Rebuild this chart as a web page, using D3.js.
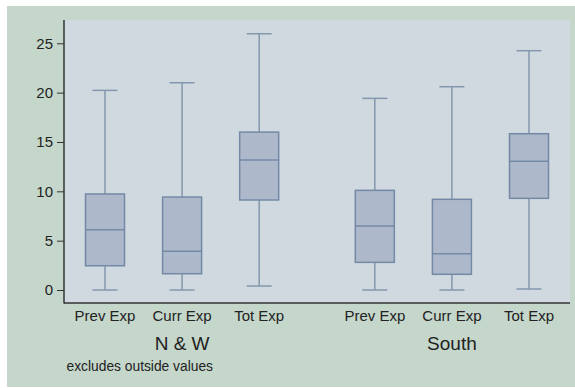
<!DOCTYPE html>
<html>
<head>
<meta charset="utf-8">
<script src="https://cdn.jsdelivr.net/npm/d3@7"></script>
<style>
  html, body { margin: 0; padding: 0; background: #ffffff; }
  svg { display: block; }
  text { font-family: "Liberation Sans", Arial, Helvetica, sans-serif; fill: #222; }
</style>
</head>
<body>
<svg id="chart" width="575" height="388"></svg>
<script>
const groups = ["N & W", "South"];
const categories = ["Prev Exp", "Curr Exp", "Tot Exp"];
const lowerWhisker = [0, 0, 0.4, 0, 0, 0.1];
const q1 = [2.46, 1.65, 9.12, 2.8, 1.59, 9.29];
const median = [6.11, 3.92, 13.17, 6.48, 3.68, 13.04];
const q3 = [9.73, 9.42, 16.0, 10.1, 9.19, 15.84];
const upperWhisker = [20.23, 21.0, 25.97, 19.42, 20.6, 24.25];
const yTicks = [0, 5, 10, 15, 20, 25];
const note = "excludes outside values";

const svg = d3.select("#chart");

// backgrounds
svg.append("rect").attr("x", 7).attr("y", 6).attr("width", 568).attr("height", 381).attr("fill", "#c5d6cb");
const plot = { left: 64, right: 570, top: 20, bottom: 303 };
svg.append("rect").attr("x", plot.left).attr("y", plot.top)
  .attr("width", plot.right - plot.left).attr("height", plot.bottom - plot.top)
  .attr("fill", "#d0d9df");

// positions: each group has 3 boxes, gap of 1.5 slots between groups
const pos = [];
groups.forEach((g, gi) => categories.forEach((c, ci) => pos.push(gi * 3.5 + ci)));

const x = d3.scaleLinear().domain([0, 5.5]).range([105, 529]);
const y = d3.scaleLinear().domain([0, 25]).range([290, 43.3]);

const boxW = 39, capW = 25;
const whiskerColor = "#8397ae", boxStroke = "#7489a5", boxFill = "#adb9cb";

const data = pos.map((p, i) => ({
  p, lo: lowerWhisker[i], q1: q1[i], med: median[i], q3: q3[i], hi: upperWhisker[i]
}));

const g = svg.append("g");
data.forEach(d => {
  const cx = x(d.p);
  g.append("line").attr("x1", cx).attr("x2", cx).attr("y1", y(d.hi)).attr("y2", y(d.q3))
    .attr("stroke", whiskerColor).attr("stroke-width", 1.5);
  g.append("line").attr("x1", cx).attr("x2", cx).attr("y1", y(d.q1)).attr("y2", y(d.lo))
    .attr("stroke", whiskerColor).attr("stroke-width", 1.5);
  g.append("line").attr("x1", cx - capW / 2).attr("x2", cx + capW / 2).attr("y1", y(d.hi)).attr("y2", y(d.hi))
    .attr("stroke", whiskerColor).attr("stroke-width", 1.5);
  g.append("line").attr("x1", cx - capW / 2).attr("x2", cx + capW / 2).attr("y1", y(d.lo)).attr("y2", y(d.lo))
    .attr("stroke", whiskerColor).attr("stroke-width", 1.5);
  g.append("rect").attr("x", cx - boxW / 2).attr("y", y(d.q3)).attr("width", boxW)
    .attr("height", y(d.q1) - y(d.q3)).attr("fill", boxFill)
    .attr("stroke", boxStroke).attr("stroke-width", 1.5);
  g.append("line").attr("x1", cx - boxW / 2).attr("x2", cx + boxW / 2).attr("y1", y(d.med)).attr("y2", y(d.med))
    .attr("stroke", boxStroke).attr("stroke-width", 1.5);
});

// y axis
const yAxis = d3.axisLeft(y).tickValues(yTicks).tickSize(7).tickPadding(4).tickSizeOuter(0);
const ya = svg.append("g").attr("transform", `translate(${plot.left},0)`).call(yAxis);
ya.select(".domain").remove();
ya.selectAll(".tick line").attr("stroke", "#333");
ya.selectAll(".tick text").attr("font-size", 15).attr("fill", "#222")
  .attr("font-family", "Liberation Sans, Arial, sans-serif");
svg.append("line").attr("x1", plot.left).attr("x2", plot.left).attr("y1", plot.top).attr("y2", plot.bottom + 0.5)
  .attr("stroke", "#333").attr("stroke-width", 1.5);
svg.append("line").attr("x1", plot.left).attr("x2", plot.right).attr("y1", plot.bottom).attr("y2", plot.bottom)
  .attr("stroke", "#333").attr("stroke-width", 1.5);

// category labels
data.forEach((d, i) => {
  svg.append("text").attr("x", x(d.p)).attr("y", 321).attr("text-anchor", "middle")
    .attr("font-size", 15).text(categories[i % 3]);
});
// group labels
groups.forEach((gname, gi) => {
  svg.append("text").attr("x", x(gi * 3.5 + 1)).attr("y", 350).attr("text-anchor", "middle")
    .attr("font-size", 19).text(gname);
});
// note
svg.append("text").attr("x", 66.5).attr("y", 370.5).attr("font-size", 13.8).text(note);
</script>
</body>
</html>
